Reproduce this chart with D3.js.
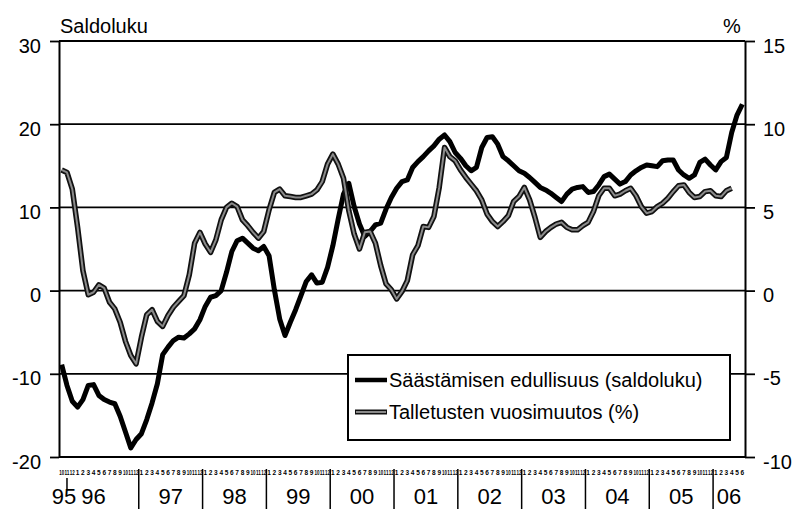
<!DOCTYPE html>
<html>
<head>
<meta charset="utf-8">
<script src="https://cdn.jsdelivr.net/npm/d3@7"></script>
<style>
  body { margin: 0; background: #fff; }
  svg { display: block; font-family: "Liberation Sans", Arial, sans-serif; }
</style>
</head>
<body>
<div id="chart"></div>
<script>
// monthly data, Oct 1995 .. Jun 2006
var monthTicks = ["1","2","3","4","5","6","7","8","9","10","11","12"];
var firstMonth = 9; // October
var nMonths = 129;
var years = ["95","96","97","98","99","00","01","02","03","04","05","06"];

// Säästämisen edullisuus (saldoluku), left axis
var saldoluku = [
  -8.9,-11.4,-13.3,-14.0,-13.1,-11.4,-11.3,-12.6,-13.1,-13.4,
  -13.6,-15.1,-17.0,-18.9,-17.9,-17.2,-15.5,-13.5,-11.2,-7.7,
  -6.8,-6.0,-5.6,-5.7,-5.2,-4.6,-3.5,-1.9,-0.8,-0.6,
  0.0,2.2,4.7,6.0,6.3,5.7,5.1,4.8,5.3,4.2,
  0.1,-3.4,-5.4,-3.8,-2.3,-0.6,1.1,1.9,0.9,1.0,
  2.8,5.4,8.6,11.6,12.9,10.1,8.0,6.5,7.1,7.9,
  8.1,9.8,11.2,12.3,13.1,13.3,14.8,15.5,16.1,16.8,
  17.4,18.2,18.7,17.9,16.6,15.9,15.0,14.4,14.8,17.2,
  18.4,18.5,17.6,16.1,15.6,15.0,14.4,14.1,13.6,13.0,
  12.4,12.1,11.7,11.2,10.7,11.6,12.2,12.4,12.5,11.8,
  11.9,12.7,13.7,14.0,13.4,12.8,13.1,13.9,14.4,14.8,
  15.1,15.0,14.9,15.6,15.7,15.7,14.5,13.9,13.5,13.9,
  15.4,15.8,15.1,14.5,15.5,16.0,19.0,21.1,22.4
];

// Talletusten vuosimuutos (%), right axis
var talletukset = [
  7.25,7.1,6.1,3.8,1.2,-0.25,-0.1,0.35,0.15,-0.7,
  -1.1,-1.9,-3.05,-3.9,-4.4,-2.8,-1.45,-1.15,-1.85,-2.15,
  -1.5,-1.0,-0.65,-0.3,0.95,2.85,3.5,2.8,2.3,3.05,
  4.25,5.0,5.25,5.05,4.25,3.9,3.5,3.15,3.55,4.85,
  5.9,6.1,5.7,5.65,5.6,5.6,5.7,5.8,6.05,6.55,
  7.6,8.2,7.6,6.75,4.8,3.4,2.5,3.5,3.55,2.85,
  1.5,0.4,0.05,-0.5,-0.05,0.6,2.15,2.7,3.85,3.8,
  4.45,6.2,8.6,8.05,7.8,7.25,6.8,6.4,6.0,5.45,
  4.6,4.15,3.85,4.15,4.5,5.35,5.65,6.2,5.45,4.4,
  3.2,3.55,3.8,4.0,4.1,3.8,3.65,3.65,3.9,4.1,
  4.75,5.7,6.15,6.15,5.7,5.8,6.0,6.15,5.7,5.05,
  4.65,4.75,5.05,5.25,5.55,5.95,6.3,6.35,5.9,5.6,
  5.65,5.95,6.0,5.7,5.65,6.0,6.15
];

var leftTicks = [-20, -10, 0, 10, 20, 30];
var rightTicks = [-10, -5, 0, 5, 10, 15];
var seriesNames = ["Säästämisen edullisuus (saldoluku)", "Talletusten vuosimuutos (%)"];

var W = 795, H = 509;
var plotLeft = 59, plotRight = 745, plotTop = 41, plotBottom = 457;

var svg = d3.select("#chart").append("svg").attr("width", W).attr("height", H);

var x = d3.scaleBand().domain(d3.range(nMonths)).range([plotLeft, plotRight]).padding(0);
var xc = function(i) { return x(i) + x.bandwidth() / 2; };
var yL = d3.scaleLinear().domain([-20, 30]).range([plotBottom, plotTop]);
var yR = d3.scaleLinear().domain([-10, 15]).range([plotBottom, plotTop]);
var plainNum = function(d) { return String(d); }; // ascii hyphen for minus

// horizontal grid lines
svg.append("g")
  .selectAll("line")
  .data(leftTicks.slice(1))
  .enter().append("line")
  .attr("x1", plotLeft).attr("x2", plotRight)
  .attr("y1", function(d) { return yL(d); })
  .attr("y2", function(d) { return yL(d); })
  .attr("stroke", "#000").attr("stroke-width", 1.8);

// left axis
var gl = svg.append("g").attr("transform", "translate(" + plotLeft + ",0)")
  .call(d3.axisLeft(yL).tickValues(leftTicks).tickFormat(plainNum)
    .tickSize(9).tickPadding(9).tickSizeOuter(0));
// right axis
var gr = svg.append("g").attr("transform", "translate(" + plotRight + ",0)")
  .call(d3.axisRight(yR).tickValues(rightTicks).tickFormat(plainNum)
    .tickSize(10).tickPadding(8).tickSizeOuter(0));

[gl, gr].forEach(function(g) {
  g.select(".domain").attr("stroke", "#000").attr("stroke-width", 2);
  g.selectAll(".tick line").attr("stroke", "#000").attr("stroke-width", 1.8);
  g.selectAll(".tick text").attr("fill", "#000")
    .style("font-size", "20px").attr("dy", "0.55em");
});

// bottom axis line
svg.append("line")
  .attr("x1", plotLeft).attr("x2", plotRight)
  .attr("y1", yL(-20)).attr("y2", yL(-20))
  .attr("stroke", "#000").attr("stroke-width", 2);

// axis titles
svg.append("text").attr("x", 60).attr("y", 33).style("font-size", "20px").text("Saldoluku");
svg.append("text").attr("x", 723).attr("y", 33).style("font-size", "20px").text("%");

// month labels
svg.append("g")
  .selectAll("text")
  .data(d3.range(nMonths))
  .enter().append("text")
  .attr("x", function(i) { return xc(i); })
  .attr("y", 475)
  .attr("text-anchor", "middle")
  .style("font-size", "6.5px").style("font-weight", "bold")
  .attr("textLength", function(i) { return monthTicks[(firstMonth + i) % 12].length > 1 ? 5 : null; })
  .attr("lengthAdjust", "spacingAndGlyphs")
  .text(function(i) { return monthTicks[(firstMonth + i) % 12]; });

// year labels and separators
var yearInfo = years.map(function(y, k) {
  var start = k === 0 ? 0 : 3 + (k - 1) * 12;
  var end = k === 0 ? 2 : Math.min(start + 11, nMonths - 1);
  return { label: y, start: start, end: end };
});
svg.append("g")
  .selectAll("text")
  .data(yearInfo)
  .enter().append("text")
  .attr("x", function(d, k) {
    if (k === 0) return x(0) + 5;           // "95" squeezed at the left
    if (k === 1) return xc(6);               // "96" sits left of centre
    return (x(d.start) + x(d.end) + x.bandwidth()) / 2;
  })
  .attr("y", 504)
  .attr("text-anchor", "middle")
  .style("font-size", "22px")
  .text(function(d) { return d.label; });

svg.append("g")
  .selectAll("line")
  .data(yearInfo.slice(2))
  .enter().append("line")
  .attr("x1", function(d) { return x(d.start); })
  .attr("x2", function(d) { return x(d.start); })
  .attr("y1", 469).attr("y2", H)
  .attr("stroke", "#000").attr("stroke-width", 1.5);
// small mark in the 95 label
svg.append("line")
  .attr("x1", xc(1)).attr("x2", xc(1))
  .attr("y1", 478).attr("y2", 490)
  .attr("stroke", "#000").attr("stroke-width", 1.5);

// series lines
var lineL = d3.line().x(function(d, i) { return xc(i); }).y(function(d) { return yL(d); });
var lineR = d3.line().x(function(d, i) { return xc(i); }).y(function(d) { return yR(d); });

svg.append("path").datum(saldoluku)
  .attr("fill", "none").attr("stroke", "#000").attr("stroke-width", 5)
  .attr("stroke-linejoin", "round")
  .attr("d", lineL);

svg.append("path").datum(talletukset)
  .attr("fill", "none").attr("stroke", "#111").attr("stroke-width", 5.5)
  .attr("stroke-linejoin", "round")
  .attr("d", lineR);
svg.append("path").datum(talletukset)
  .attr("fill", "none").attr("stroke", "#8a8a8a").attr("stroke-width", 2)
  .attr("stroke-linejoin", "round")
  .attr("d", lineR);

// legend
var lg = svg.append("g");
lg.append("rect").attr("x", 348).attr("y", 355).attr("width", 382).attr("height", 85)
  .attr("fill", "#fff").attr("stroke", "#000").attr("stroke-width", 2);

lg.append("line").attr("x1", 355).attr("x2", 387).attr("y1", 380).attr("y2", 380)
  .attr("stroke", "#000").attr("stroke-width", 4.5);
lg.append("text").attr("x", 389).attr("y", 387).style("font-size", "20px").text(seriesNames[0]);

lg.append("line").attr("x1", 355).attr("x2", 387).attr("y1", 412).attr("y2", 412)
  .attr("stroke", "#111").attr("stroke-width", 5);
lg.append("line").attr("x1", 356).attr("x2", 386).attr("y1", 412).attr("y2", 412)
  .attr("stroke", "#8a8a8a").attr("stroke-width", 2);
lg.append("text").attr("x", 389).attr("y", 419).style("font-size", "20px").text(seriesNames[1]);
</script>
</body>
</html>
